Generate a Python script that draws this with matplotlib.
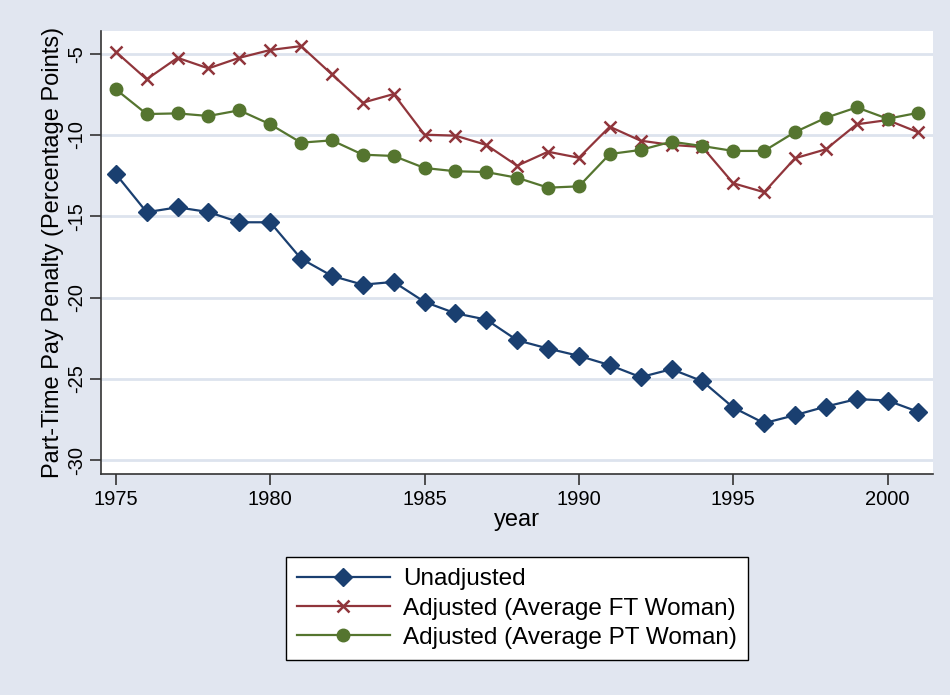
import matplotlib
matplotlib.use("Agg")
import matplotlib.pyplot as plt

years = list(range(1975, 2002))
unadjusted = [-12.40, -14.75, -14.45, -14.74, -15.37, -15.37, -17.61, -18.67, -19.21, -19.04,
              -20.27, -20.97, -21.36, -22.63, -23.14, -23.59, -24.16, -24.90, -24.41, -25.15,
              -26.77, -27.73, -27.24, -26.71, -26.25, -26.34, -27.04]
adj_ft = [-4.88, -6.57, -5.25, -5.90, -5.25, -4.77, -4.53, -6.27, -8.01, -7.48,
          -9.98, -10.04, -10.61, -11.89, -11.03, -11.40, -9.49, -10.35, -10.61, -10.74,
          -12.97, -13.52, -11.43, -10.88, -9.34, -9.08, -9.84]
adj_pt = [-7.19, -8.71, -8.67, -8.83, -8.48, -9.34, -10.47, -10.33, -11.21, -11.29,
          -12.03, -12.23, -12.28, -12.63, -13.24, -13.16, -11.17, -10.92, -10.41, -10.68,
          -10.98, -10.98, -9.82, -8.94, -8.30, -9.00, -8.63]
labels = ["Unadjusted", "Adjusted (Average FT Woman)", "Adjusted (Average PT Woman)"]
xticks = [1975, 1980, 1985, 1990, 1995, 2000]
yticks = [-30, -25, -20, -15, -10, -5]

plt.rcParams['font.family'] = ['Liberation Sans', 'DejaVu Sans']
bg = '#E1E6F0'
fig = plt.figure(figsize=(9.5, 6.95), dpi=100, facecolor=bg)
ax = fig.add_axes([101/950, 1-474/695, (933-101)/950, (474-31)/695])
ax.set_facecolor('white')

ax.plot(years, unadjusted, color='#1A3F70', marker='D', markersize=9, lw=1.6, label=labels[0])
ax.plot(years, adj_ft, color='#90353B', marker='x', markersize=8, mew=1.8, lw=1.6, label=labels[1])
ax.plot(years, adj_pt, color='#55752F', marker='o', markersize=9, lw=1.6, label=labels[2])

ax.set_xlim(1974.52, 2001.47)
ax.set_ylim(-30.86, -3.6)
ax.set_xticks(xticks)
ax.set_yticks(yticks)
ax.set_yticklabels([str(v) for v in yticks], rotation=90, va='center')
ax.tick_params(axis='both', direction='out', length=8, width=1.2, color='#333333', labelsize=14.5)
ax.tick_params(axis='y', pad=3)
ax.grid(axis='y', color='#DDE3EE', lw=2)
ax.set_axisbelow(True)
for s in ['top', 'right']:
    ax.spines[s].set_visible(False)
for s in ['left', 'bottom']:
    ax.spines[s].set_color('#333333')
    ax.spines[s].set_linewidth(1.2)
ax.set_xlabel('year', fontsize=17, labelpad=0)
ax.set_ylabel('Part-Time Pay Penalty (Percentage Points)', fontsize=17, labelpad=2)

leg = fig.legend(loc='center', bbox_to_anchor=((284+750)/2/950, 1-(553+664)/2/695),
                 fontsize=17.5, frameon=True, fancybox=False, edgecolor='black', framealpha=1,
                 handlelength=3.8, handletextpad=0.55, borderpad=0.45, labelspacing=0.3,
                 borderaxespad=0)
leg.get_frame().set_linewidth(1.0)
leg.get_frame().set_facecolor('white')

fig.savefig('out.png', dpi=100, facecolor=bg)
